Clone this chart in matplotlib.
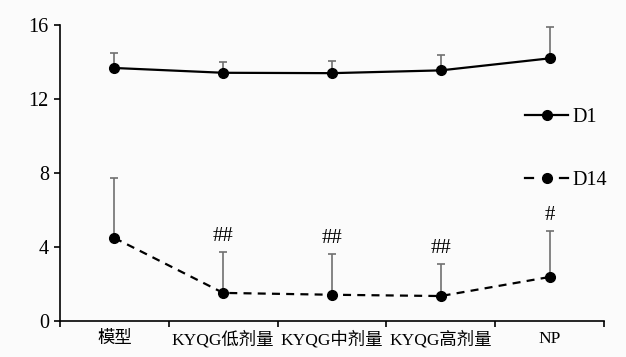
import matplotlib
matplotlib.use("Agg")
import matplotlib.pyplot as plt
from matplotlib.lines import Line2D
from matplotlib.legend_handler import HandlerBase

categories = ["模型", "KYQG低剂量", "KYQG中剂量", "KYQG高剂量", "NP"]
d1_mean = [13.68, 13.42, 13.40, 13.55, 14.20]
d1_err = [0.82, 0.58, 0.65, 0.83, 1.70]
d14_mean = [4.49, 1.52, 1.42, 1.35, 2.38]
d14_err = [3.24, 2.21, 2.20, 1.73, 2.48]
marks = ["", "##", "##", "##", "#"]
yticks = [0, 4, 8, 12, 16]

fam = ["Liberation Serif", "Noto Sans CJK SC", "DejaVu Sans"]
plt.rcParams["font.family"] = fam

bg = "#fbfbfb"
fig = plt.figure(figsize=(6.26, 3.57), dpi=100, facecolor=bg)
ax = fig.add_axes([0.0958, 0.1008, 0.869, 0.829], facecolor=bg)

x = list(range(len(categories)))
ax.errorbar(x, d1_mean, yerr=[[0]*5, d1_err], fmt="none", ecolor="#707070",
            elinewidth=1.2, capsize=3, capthick=1.2, zorder=1)
ax.errorbar(x, d14_mean, yerr=[[0]*5, d14_err], fmt="none", ecolor="#707070",
            elinewidth=1.2, capsize=3, capthick=1.2, zorder=1)
ax.plot(x, d1_mean, "-", color="black", lw=1.6, marker="o", ms=7, zorder=3)
ax.plot(x, d14_mean, color="black", lw=1.6, ls=(0, (3.6, 2.8)), marker="o", ms=7, zorder=3)

for xi, m, e, s in zip(x, d14_mean, d14_err, marks):
    if s:
        ax.text(xi, m + e + 0.35, s, ha="center", va="bottom", fontsize=15, family=fam)

ax.set_xlim(-0.5, 4.5)
ax.set_ylim(0, 16)
ax.set_yticks(yticks)
ax.set_yticklabels([str(v) for v in yticks], fontsize=14.5)
ax.set_xticks(x)
ax.set_xticklabels(categories, fontsize=12.5)
ax.set_xticks([i + 0.5 for i in range(-1, 5)], minor=True)
ax.tick_params(axis="x", which="major", length=0, pad=7)
ax.tick_params(axis="x", which="minor", length=4, width=1.2, direction="out")
ax.tick_params(axis="y", length=4, width=1.2, direction="out", pad=4)
for sp in ["top", "right"]:
    ax.spines[sp].set_visible(False)
for sp in ["left", "bottom"]:
    ax.spines[sp].set_linewidth(1.2)


class DashMarkHandler(HandlerBase):
    def create_artists(self, legend, orig, xdescent, ydescent, width, height,
                       fontsize, trans):
        y = height / 2 - ydescent
        x0 = -xdescent
        seg = width * 0.19
        a = Line2D([x0, x0 + seg], [y, y], color="black", lw=1.6)
        b = Line2D([x0 + width - seg, x0 + width], [y, y], color="black", lw=1.6)
        m = Line2D([x0 + width / 2], [y], color="black", marker="o", ms=7, ls="none")
        for art in (a, b, m):
            art.set_transform(trans)
        return [a, b, m]


h1 = Line2D([], [], color="black", lw=1.6, marker="o", ms=7)
h2 = Line2D([], [], color="black", lw=1.6, ls="--", marker="o", ms=7)
ax.legend([h1, h2], ["D1", "D14"], loc="upper left", bbox_to_anchor=(0.837, 0.755),
          frameon=False, fontsize=14.5, handlelength=2.1, handletextpad=0.25,
          labelspacing=2.2, borderpad=0, handler_map={h2: DashMarkHandler()})

fig.savefig("out.png", dpi=100, facecolor=fig.get_facecolor())
